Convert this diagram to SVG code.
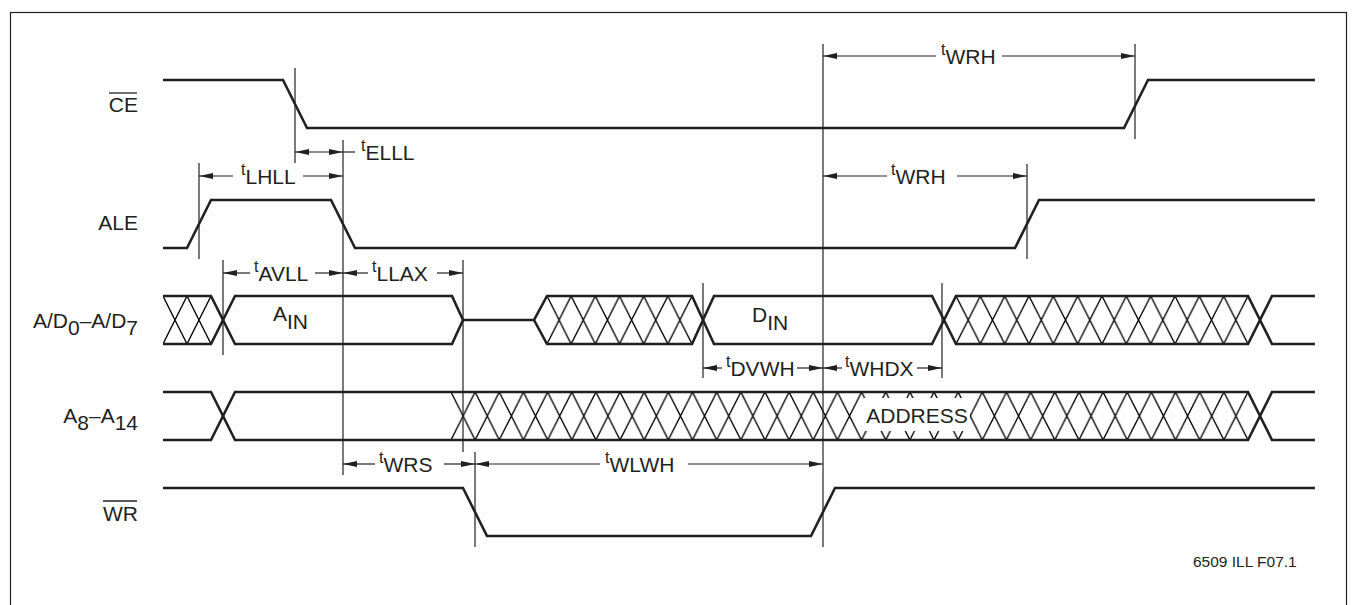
<svg xmlns="http://www.w3.org/2000/svg" width="1356" height="605" viewBox="0 0 1356 605">
<style>
.sig{fill:none;stroke:#231f20;stroke-width:2.6;stroke-linejoin:miter}
.ref{fill:none;stroke:#231f20;stroke-width:1.2}
.dim{fill:none;stroke:#231f20;stroke-width:1.2}
.hl{fill:none;stroke:#000000;stroke-width:1.3}
.lbl{font-family:"Liberation Sans",Arial,sans-serif;font-size:21px;fill:#231f20}
.ts{font-size:16px}
.ov{stroke:#231f20;stroke-width:1.3}
</style>
<defs>
<marker id="ah" viewBox="0 0 14 6" refX="14" refY="3" markerWidth="14" markerHeight="6" markerUnits="userSpaceOnUse" orient="auto-start-reverse">
<path d="M0,0 L14,3 L0,6 z" fill="#231f20"/>
</marker>
<pattern id="hx1" patternUnits="userSpaceOnUse" x="163" y="296" width="24" height="48"><path class="hl" d="M0,0 L24,48 M24,0 L0,48"/></pattern>
<pattern id="hx2" patternUnits="userSpaceOnUse" x="547" y="296" width="24.1667" height="48"><path class="hl" d="M0,0 L24.1667,48 M24.1667,0 L0,48"/></pattern>
<pattern id="hx3" patternUnits="userSpaceOnUse" x="956" y="296" width="24.3333" height="48"><path class="hl" d="M0,0 L24.3333,48 M24.3333,0 L0,48"/></pattern>
<pattern id="hx4" patternUnits="userSpaceOnUse" x="451" y="392" width="24.1515" height="48"><path class="hl" d="M0,0 L24.1515,48 M24.1515,0 L0,48"/></pattern>
</defs>
<rect width="1356" height="605" fill="#ffffff"/>
<g id="frame"><rect x="10.5" y="12.5" width="1336" height="640" fill="none" stroke="#231f20" stroke-width="1.2"/></g>

<g id="sig-ce">
<text class="lbl" x="138" y="112" text-anchor="end">CE</text>
<line class="ov" x1="109" y1="93" x2="137" y2="93"/>
<path class="sig" d="M163,80 H283 L307,128 H1124 L1148,80 H1315"/>
</g>

<g id="sig-ale">
<text class="lbl" x="138" y="230" text-anchor="end">ALE</text>
<path class="sig" d="M163,248 H187 L211,200 H331 L355,248 H1015 L1039,200 H1315"/>
</g>

<g id="sig-ad">
<text class="lbl" x="138" y="328" text-anchor="end">A/D<tspan dy="7">0</tspan><tspan dy="-7">–A/D</tspan><tspan dy="7">7</tspan></text>
<rect x="163" y="296" width="48" height="48" fill="url(#hx1)"/>
<rect x="547" y="296" width="145" height="48" fill="url(#hx2)"/>
<rect x="956" y="296" width="292" height="48" fill="url(#hx3)"/>
<text class="lbl" x="273" y="321">A<tspan dy="8">IN</tspan></text>
<text class="lbl" x="752" y="322">D<tspan dy="8">IN</tspan></text>
<path class="sig" d="M163,296 H211 L235,344 H452 L463,320"/>
<path class="sig" d="M163,344 H211 L235,296 H452 L463,320 H534 L547,296 H692 L714,344 H932 L956,296 H1248 L1272,344 H1315"/>
<path class="sig" d="M534,320 L547,344 H692 L714,296 H932 L956,344 H1248 L1272,296 H1315"/>
</g>

<g id="sig-a8">
<text class="lbl" x="138" y="423" text-anchor="end">A<tspan dy="7">8</tspan><tspan dy="-7">–A</tspan><tspan dy="7">14</tspan></text>
<rect x="451" y="392" width="797" height="48" fill="url(#hx4)"/>
<rect x="864" y="398" width="106" height="33" fill="#ffffff"/>
<text class="lbl" x="917" y="423" text-anchor="middle">ADDRESS</text>
<path class="sig" d="M163,392 H211 L235,440 H1248 L1272,392 H1315"/>
<path class="sig" d="M163,440 H211 L235,392 H1248 L1272,440 H1315"/>
</g>

<g id="sig-wr">
<text class="lbl" x="138" y="521" text-anchor="end">WR</text>
<line class="ov" x1="103" y1="501" x2="137" y2="501"/>
<path class="sig" d="M163,488 H463 L487,536 H811 L835,488 H1315"/>
</g>

<g id="connectors">
<g id="reference-lines">
<line class="ref" x1="295" y1="68" x2="295" y2="163"/>
<line class="ref" x1="343" y1="140" x2="343" y2="475"/>
<line class="ref" x1="199" y1="163" x2="199" y2="259"/>
<line class="ref" x1="223" y1="260" x2="223" y2="355"/>
<line class="ref" x1="463" y1="260" x2="463" y2="452"/>
<line class="ref" x1="703" y1="283" x2="703" y2="378"/>
<line class="ref" x1="942" y1="283" x2="942" y2="378"/>
<line class="ref" x1="823" y1="44" x2="823" y2="547"/>
<line class="ref" x1="475" y1="452" x2="475" y2="547"/>
<line class="ref" x1="1135" y1="44" x2="1135" y2="139"/>
<line class="ref" x1="1027" y1="164" x2="1027" y2="259"/>
</g>
<g id="dim-twrh1">
<path class="dim" d="M823,56 H936" marker-start="url(#ah)"/>
<path class="dim" d="M1002,56 H1135" marker-end="url(#ah)"/>
<text class="lbl" x="941" y="55"><tspan class="ts">t</tspan><tspan dy="9">WRH</tspan></text>
</g>
<g id="dim-twrh2">
<path class="dim" d="M823,176 H887" marker-start="url(#ah)"/>
<path class="dim" d="M957,176 H1027" marker-end="url(#ah)"/>
<text class="lbl" x="891" y="175"><tspan class="ts">t</tspan><tspan dy="9">WRH</tspan></text>
</g>
<g id="dim-telll">
<path class="dim" d="M295,152 H343" marker-start="url(#ah)" marker-end="url(#ah)"/>
<line class="dim" x1="343" y1="152" x2="355" y2="152"/>
<text class="lbl" x="361" y="151"><tspan class="ts">t</tspan><tspan dy="9">ELLL</tspan></text>
</g>
<g id="dim-tlhll">
<path class="dim" d="M199,176 H233" marker-start="url(#ah)"/>
<path class="dim" d="M303,176 H343" marker-end="url(#ah)"/>
<text class="lbl" x="241" y="175"><tspan class="ts">t</tspan><tspan dy="9">LHLL</tspan></text>
</g>
<g id="dim-tavll">
<path class="dim" d="M223,273 H250" marker-start="url(#ah)"/>
<path class="dim" d="M315,273 H343" marker-end="url(#ah)"/>
<text class="lbl" x="254" y="272"><tspan class="ts">t</tspan><tspan dy="9">AVLL</tspan></text>
</g>
<g id="dim-tllax">
<path class="dim" d="M343,273 H368" marker-start="url(#ah)"/>
<path class="dim" d="M437,273 H463" marker-end="url(#ah)"/>
<text class="lbl" x="372" y="272"><tspan class="ts">t</tspan><tspan dy="9">LLAX</tspan></text>
</g>
<g id="dim-tdvwh">
<path class="dim" d="M703,368 H722" marker-start="url(#ah)"/>
<path class="dim" d="M797,368 H823" marker-end="url(#ah)"/>
<text class="lbl" x="726" y="367"><tspan class="ts">t</tspan><tspan dy="9">DVWH</tspan></text>
</g>
<g id="dim-twhdx">
<path class="dim" d="M823,368 H842" marker-start="url(#ah)"/>
<path class="dim" d="M917,368 H942" marker-end="url(#ah)"/>
<text class="lbl" x="845" y="367"><tspan class="ts">t</tspan><tspan dy="9">WHDX</tspan></text>
</g>
<g id="dim-twrs">
<path class="dim" d="M343,464 H375" marker-start="url(#ah)"/>
<path class="dim" d="M444,464 H475" marker-end="url(#ah)"/>
<text class="lbl" x="379" y="463"><tspan class="ts">t</tspan><tspan dy="9">WRS</tspan></text>
</g>
<g id="dim-twlwh">
<path class="dim" d="M475,464 H600" marker-start="url(#ah)"/>
<path class="dim" d="M688,464 H823" marker-end="url(#ah)"/>
<text class="lbl" x="605" y="463"><tspan class="ts">t</tspan><tspan dy="9">WLWH</tspan></text>
</g>
</g>

<text class="lbl" x="1193" y="567" style="font-size:15.5px">6509 ILL F07.1</text>
</svg>
